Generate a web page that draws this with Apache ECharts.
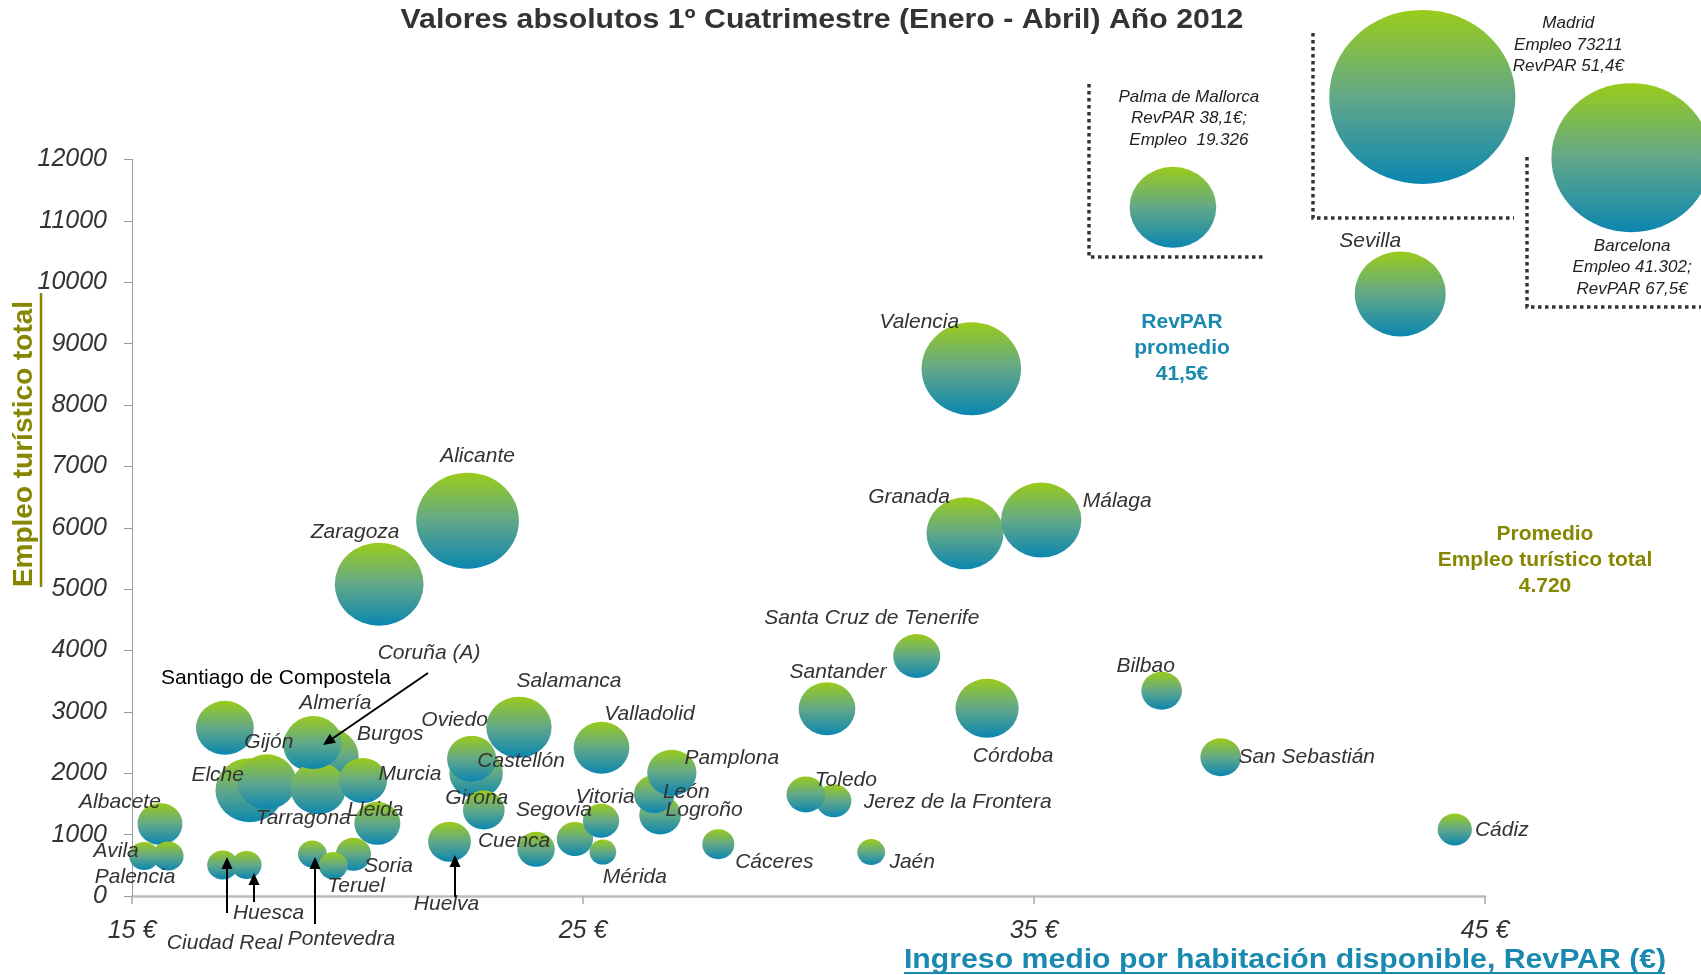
<!DOCTYPE html>
<html lang="es">
<head>
<meta charset="utf-8">
<title>Valores absolutos 1º Cuatrimestre (Enero - Abril) Año 2012</title>
<script src="https://cdn.jsdelivr.net/npm/echarts@6/dist/echarts.min.js"></script>
<style>
  html, body { margin: 0; padding: 0; background: #fff; }
  #grafico { width: 1701px; height: 975px; }
</style>
</head>
<body>
<div id="grafico"></div>
<script>
// ---- datos ----
// orden = orden de dibujo (las últimas quedan encima)
var ciudades = ['Madrid', 'Barcelona', 'Palma de Mallorca', 'Sevilla', 'Valencia', 'Alicante', 'Zaragoza',
  'Granada', 'Málaga', 'Santa Cruz de Tenerife', 'Santander', 'Córdoba', 'Bilbao', 'San Sebastián', 'Cádiz',
  'Santiago de Compostela', 'Elche', 'Gijón', 'Burgos', 'Coruña (A)', 'Tarragona', 'Almería', 'Murcia',
  'Lleida', 'Albacete', 'Avila', 'Palencia', 'Ciudad Real', 'Huesca', 'Pontevedra', 'Soria', 'Teruel',
  'Salamanca', 'Castellón', 'Oviedo', 'Girona', 'Huelva', 'Cuenca', 'Segovia', 'Vitoria', 'Mérida',
  'Valladolid', 'Logroño', 'León', 'Pamplona', 'Cáceres', 'Jerez de la Frontera', 'Toledo', 'Jaén'];
// RevPAR (€) en el eje X
var revpar = [43.61, 48.24, 38.08, 43.12, 33.61, 22.44, 20.48,
  33.47, 35.16, 32.40, 30.41, 33.96, 37.83, 39.14, 44.33,
  17.06, 17.61, 17.99, 19.35, 18.97, 19.13, 19.02, 20.12,
  20.44, 15.62, 15.27, 15.80, 17.01, 17.54, 19.00, 19.91, 19.46,
  23.58, 22.63, 22.53, 22.80, 22.04, 23.96, 24.82, 25.40, 25.44,
  25.41, 26.71, 26.58, 26.97, 28.00, 30.56, 29.94, 31.39];
// Empleo turístico total en el eje Y
var empleo = [13020, 12030, 11220, 9810, 8590, 6115, 5080,
  5910, 6125, 3910, 3050, 3060, 3345, 2260, 1085,
  2740, 1725, 1860, 2270, 2460, 1755, 2500, 1880,
  1185, 1175, 650, 650, 505, 505, 685, 680, 495,
  2750, 2000, 2235, 1400, 885, 760, 930, 1225, 715,
  2415, 1320, 1660, 2010, 845, 1550, 1655, 715];
// tamaño de burbuja (diámetro aparente)
var tamano = [174, 149, 81, 85, 93, 96, 83,
  72, 75, 44, 53, 59, 38, 38, 32,
  54, 64, 55, 57, 52, 52, 53, 45,
  43, 42, 28, 29, 29, 28, 27, 33, 27,
  61, 50, 46, 39, 40, 35, 34, 34, 25,
  52, 39, 38, 46, 30, 33, 36, 26];
var ticksY = [0, 1000, 2000, 3000, 4000, 5000, 6000, 7000, 8000, 9000, 10000, 11000, 12000];
var ticksX = [15, 25, 35, 45];
var lineaRevpar = 40.65;   // línea "RevPAR promedio 41,5€"
var lineaEmpleo = 4645;    // línea "Promedio Empleo turístico total 4.720"

// ---- textos ----
var notas = {
  'Palma de Mallorca': 'Palma de Mallorca\nRevPAR 38,1€;\nEmpleo  19.326',
  'Madrid': 'Madrid\nEmpleo 73211\nRevPAR 51,4€',
  'Barcelona': 'Barcelona\nEmpleo 41.302;\nRevPAR 67,5€'
};

// desplazamiento de cada etiqueta respecto al centro de la burbuja (px)
var desplaz = {
  'Madrid': [146, -52], 'Barcelona': [1, 110], 'Palma de Mallorca': [16, -89], 'Sevilla': [-30, -53],
  'Valencia': [-52, -47], 'Alicante': [10, -65], 'Zaragoza': [-24, -52], 'Granada': [-56, -36],
  'Málaga': [76, -19], 'Santa Cruz de Tenerife': [-45, -38], 'Santander': [11, -37], 'Córdoba': [26, 48],
  'Bilbao': [-16, -25], 'San Sebastián': [86, 0], 'Cádiz': [47, 1], 'Santiago de Compostela': [51, -50],
  'Elche': [-32, -15], 'Gijón': [2, -40], 'Burgos': [62, -23], 'Coruña (A)': [118, -92],
  'Tarragona': [-15, 30], 'Almería': [22, -39], 'Murcia': [47, -6], 'Lleida': [-2, -13],
  'Albacete': [-40, -22], 'Avila': [-28, -5], 'Palencia': [-33, 21], 'Ciudad Real': [2, 78],
  'Huesca': [22, 48], 'Pontevedra': [29, 85], 'Soria': [35, 12], 'Teruel': [23, 21],
  'Salamanca': [50, -46], 'Castellón': [45, -12], 'Oviedo': [-17, -39], 'Girona': [-7, -12],
  'Huelva': [-3, 62], 'Cuenca': [-22, -8], 'Segovia': [-21, -29], 'Vitoria': [4, -24],
  'Mérida': [32, 25], 'Valladolid': [48, -34], 'Logroño': [44, -5], 'León': [32, -2],
  'Pamplona': [60, -14], 'Cáceres': [56, 18], 'Jerez de la Frontera': [124, 1], 'Toledo': [40, -14],
  'Jaén': [41, 10]
};

var FUENTE = '"Liberation Sans", Arial, Helvetica, sans-serif';
var AZUL = '#1a89b0';
var OLIVA = '#868600';

var grafico = echarts.init(document.getElementById('grafico'));

var puntos = ciudades.map(function (c, i) {
  var item = {
    name: c,
    value: [revpar[i], empleo[i], tamano[i]],
    label: { offset: desplaz[c] || [0, 0] }
  };
  if (notas[c]) {
    item.label.formatter = notas[c];
    item.label.fontSize = 17;
    item.label.lineHeight = 21.5;
    item.label.color = '#222';
  }
  if (c === 'Santiago de Compostela') {
    item.label.fontStyle = 'normal';
    item.label.color = '#000';
  }
  return item;
});

function texto(x, y, t, opts) {
  var st = {
    text: t, fill: opts.color || '#333',
    fontSize: opts.size || 20, fontWeight: opts.weight || 'normal',
    fontStyle: opts.style || 'normal', fontFamily: FUENTE,
    lineHeight: opts.lineHeight,
    textAlign: 'center', align: 'center',
    textVerticalAlign: 'middle', verticalAlign: 'middle'
  };
  return { type: 'text', x: x, y: y, rotation: opts.rotation || 0,
    scaleX: opts.scaleX || 1, z: 100, style: st };
}

function flecha(x1, y1, x2, y2) {
  var ang = Math.atan2(y2 - y1, x2 - x1);
  var L = 12, W = 5.5;
  var bx = x2 - L * Math.cos(ang), by = y2 - L * Math.sin(ang);
  var px = -Math.sin(ang) * W, py = Math.cos(ang) * W;
  return [
    { type: 'line', z: 100, shape: { x1: x1, y1: y1, x2: bx, y2: by }, style: { stroke: '#000', lineWidth: 2 } },
    { type: 'polygon', z: 100, shape: { points: [[x2, y2], [bx + px, by + py], [bx - px, by - py]] }, style: { fill: '#000' } }
  ];
}

function corchete(pts) {
  return { type: 'polyline', z: 90, shape: { points: pts },
    style: { stroke: '#333', lineWidth: 3.5, lineDash: [3.5, 3.5], fill: null } };
}

var graficos = [
  texto(822, 20, 'Valores absolutos 1º Cuatrimestre (Enero - Abril) Año 2012', { size: 28, weight: 'bold', color: '#333', scaleX: 1.08 }),
  texto(24, 444, 'Empleo turístico total', { size: 28, weight: 'bold', color: OLIVA, rotation: Math.PI / 2 }),
  { type: 'line', z: 100, shape: { x1: 41, y1: 293, x2: 41, y2: 587 }, style: { stroke: OLIVA, lineWidth: 2.5 } },
  texto(1285, 961, 'Ingreso medio por habitación disponible, RevPAR (€)', { size: 27, weight: 'bold', color: AZUL, scaleX: 1.12 }),
  { type: 'line', z: 100, shape: { x1: 904, y1: 973, x2: 1665, y2: 973 }, style: { stroke: AZUL, lineWidth: 2 } },
  texto(1182, 348, 'RevPAR\npromedio\n41,5€', { size: 21, weight: 'bold', color: AZUL, lineHeight: 26 }),
  texto(1545, 560, 'Promedio\nEmpleo turístico total\n4.720', { size: 21, weight: 'bold', color: OLIVA, lineHeight: 26 }),
  corchete([[1089, 84], [1089, 257], [1265, 257]]),
  corchete([[1313, 33], [1313, 218], [1514, 218]]),
  corchete([[1527, 157], [1527, 307], [1701, 307]])
].concat(
  flecha(428, 673, 323, 745),
  flecha(227, 913, 227, 857),
  flecha(254, 902, 254, 873),
  flecha(315, 924, 315, 857),
  flecha(455, 897, 455, 855)
);

var option = {
  animation: false,
  backgroundColor: '#fff',
  textStyle: { fontFamily: FUENTE },
  grid: { left: 132, right: 216, top: 159.5, bottom: 79, containLabel: false, outerBoundsMode: 'none' },
  xAxis: {
    type: 'value', min: ticksX[0], max: ticksX[ticksX.length - 1], interval: 10,
    axisLine: { show: true, lineStyle: { color: '#bdbdbd', width: 2.5 } },
    axisTick: { show: true, length: 8, lineStyle: { color: '#aaa', width: 1.5 } },
    axisLabel: { formatter: function (v) { return v + ' €'; }, fontSize: 25, fontStyle: 'italic',
      color: '#333', margin: 23, fontFamily: FUENTE },
    splitLine: { show: false }
  },
  yAxis: {
    type: 'value', min: ticksY[0], max: ticksY[ticksY.length - 1], interval: 1000,
    axisLine: { show: true, lineStyle: { color: '#9a9a9a', width: 1 } },
    axisTick: { show: true, length: 8, lineStyle: { color: '#9a9a9a' } },
    axisLabel: { formatter: function (v) { return String(v); }, fontSize: 25, fontStyle: 'italic',
      color: '#333', margin: 25, fontFamily: FUENTE },
    splitLine: { show: false }
  },
  series: [{
    type: 'scatter',
    clip: false,
    data: puntos,
    symbol: 'circle',
    symbolSize: function (v) { return [v[2] * 1.07, v[2]]; },
    itemStyle: {
      opacity: 1,
      color: new echarts.graphic.LinearGradient(0, 0, 0, 1, [
        { offset: 0, color: '#9acb1a' },
        { offset: 0.5, color: '#62a889' },
        { offset: 1, color: '#0b86b0' }
      ])
    },
    label: {
      show: true, position: 'inside', formatter: '{b}',
      fontSize: 21, fontStyle: 'italic', color: '#333', fontFamily: FUENTE
    },
    emphasis: { disabled: true },
    markLine: {
      silent: true, symbol: 'none', animation: false,
      label: { show: false },
      data: [
        [{ coord: [lineaRevpar, 0], lineStyle: { color: AZUL, width: 3.5, type: [4, 4.5] } },
         { coord: [lineaRevpar, 13130] }],
        [{ coord: [15, lineaEmpleo], lineStyle: { color: OLIVA, width: 4, type: [4, 4.5] } },
         { coord: [49.8, lineaEmpleo] }]
      ]
    }
  }],
  graphic: graficos
};

grafico.setOption(option);
</script>
</body>
</html>
